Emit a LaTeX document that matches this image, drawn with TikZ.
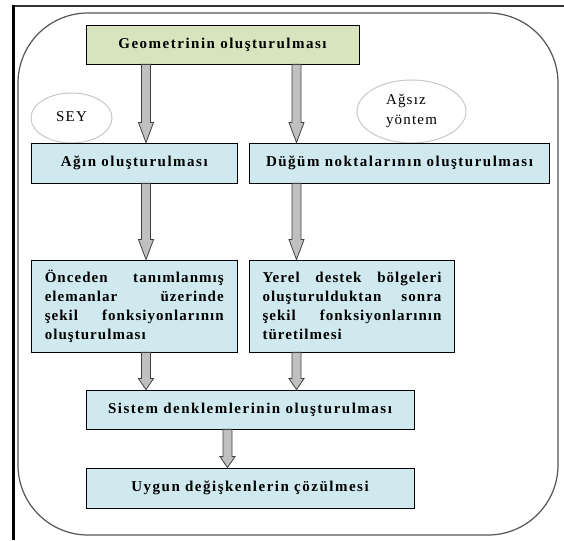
\documentclass[tikz,border=0pt]{standalone}
\usepackage{fontspec}
\setmainfont{Liberation Serif}[LetterSpace=10]
\newfontfamily\regfont{Liberation Serif}[LetterSpace=8]
\newfontfamily\parafont{Liberation Serif}[LetterSpace=7]
\usetikzlibrary{shapes.geometric,calc}
\definecolor{boxblue}{HTML}{CFE9EF}
\definecolor{boxgreen}{HTML}{D7E4BD}
\definecolor{arrfill}{HTML}{C0C0C0}
\definecolor{arrline}{HTML}{404040}
\definecolor{ellline}{HTML}{C8C8C8}
\definecolor{frameline}{HTML}{555555}
\newcommand\jline[1]{\leavevmode\hbox to 179pt{#1}}
\tikzset{
  box/.style={draw=black, line width=0.8pt, fill=boxblue, minimum height=40pt, inner sep=0pt,
    font=\fontsize{15}{19}\selectfont\bfseries},
  parabox/.style={box, minimum height=92pt, text width=179pt, align=left,
    font=\parafont\fontsize{15}{19}\selectfont\bfseries},
  greenbox/.style={box, fill=boxgreen},
  tag/.style={draw=ellline, line width=1pt, fill=white, ellipse, inner sep=0pt,
    font=\regfont\fontsize{15}{20}\selectfont},
  fat/.style={fill=arrfill, draw=arrline, line width=0.8pt, line join=miter},
}
\newcommand\fatarrow[4][20]{%
  \draw[fat] let \p1=(#3.south), \p2=(#4.north) in
  ({#2pt-4.5pt},\y1) -- ({#2pt+4.5pt},\y1) -- ({#2pt+4.5pt},{\y2+#1pt}) -- ({#2pt+7.5pt},{\y2+#1pt})
  -- ({#2pt},\y2) -- ({#2pt-7.5pt},{\y2+#1pt}) -- ({#2pt-4.5pt},{\y2+#1pt}) -- cycle;}
\begin{document}
\begin{tikzpicture}[x=1pt,y=1pt]
\useasboundingbox (0,0) rectangle (564,540);
\fill[white] (0,0) rectangle (564,540);
% outer frame
\draw[line width=2pt, black!80] (12,534) -- (564,534);
\draw[line width=3pt, black] (13.5,535) -- (13.5,0);
\draw[frameline, line width=1.2pt, rounded corners=70pt] (18,5) rectangle (558,527);
% tags
\node[tag, minimum width=81pt, minimum height=50pt] (sey) at (71.5,422) {\raisebox{3pt}{SEY}};
\node[tag, minimum width=109pt, minimum height=63pt, align=left] (agsiz) at (411.5,428.5) {Ağsız\\yöntem};
% boxes
\node[greenbox, minimum width=273pt, minimum height=39pt] (geo) at (222.5,495.5) {Geometrinin oluşturulması};
\node[box, minimum width=205.5pt] (agin) at (134.25,377) {Ağın oluşturulması};
\node[box, minimum width=300pt] (dugum) at (399.5,377) {Düğüm noktalarının oluşturulması};
\node[parabox, minimum width=205.5pt] (once) at (134.25,234)
  {\jline{Önceden\hfill tanımlanmış}\\\jline{elemanlar\hfill üzerinde}\\\jline{şekil\hfill fonksiyonlarının}\\oluşturulması};
\node[parabox, minimum width=205pt] (yerel) at (352,234)
  {\jline{Yerel\hfill destek\hfill bölgeleri}\\\jline{oluşturulduktan\hfill sonra}\\\jline{şekil\hfill fonksiyonlarının}\\türetilmesi};
\node[box, minimum width=328pt, minimum height=39pt] (sistem) at (250,130.5) {Sistem denklemlerinin oluşturulması};
\node[box, minimum width=328pt] (uygun) at (250,52) {Uygun değişkenlerin çözülmesi};
% arrows
\fatarrow{146}{geo}{agin}
\fatarrow{296.5}{geo}{dugum}
\fatarrow{146}{agin}{once}
\fatarrow{296.5}{dugum}{yerel}
\fatarrow[11]{146}{once}{sistem}
\fatarrow[11]{296.5}{yerel}{sistem}
\fatarrow[11]{227.5}{sistem}{uygun}
\end{tikzpicture}
\end{document}
